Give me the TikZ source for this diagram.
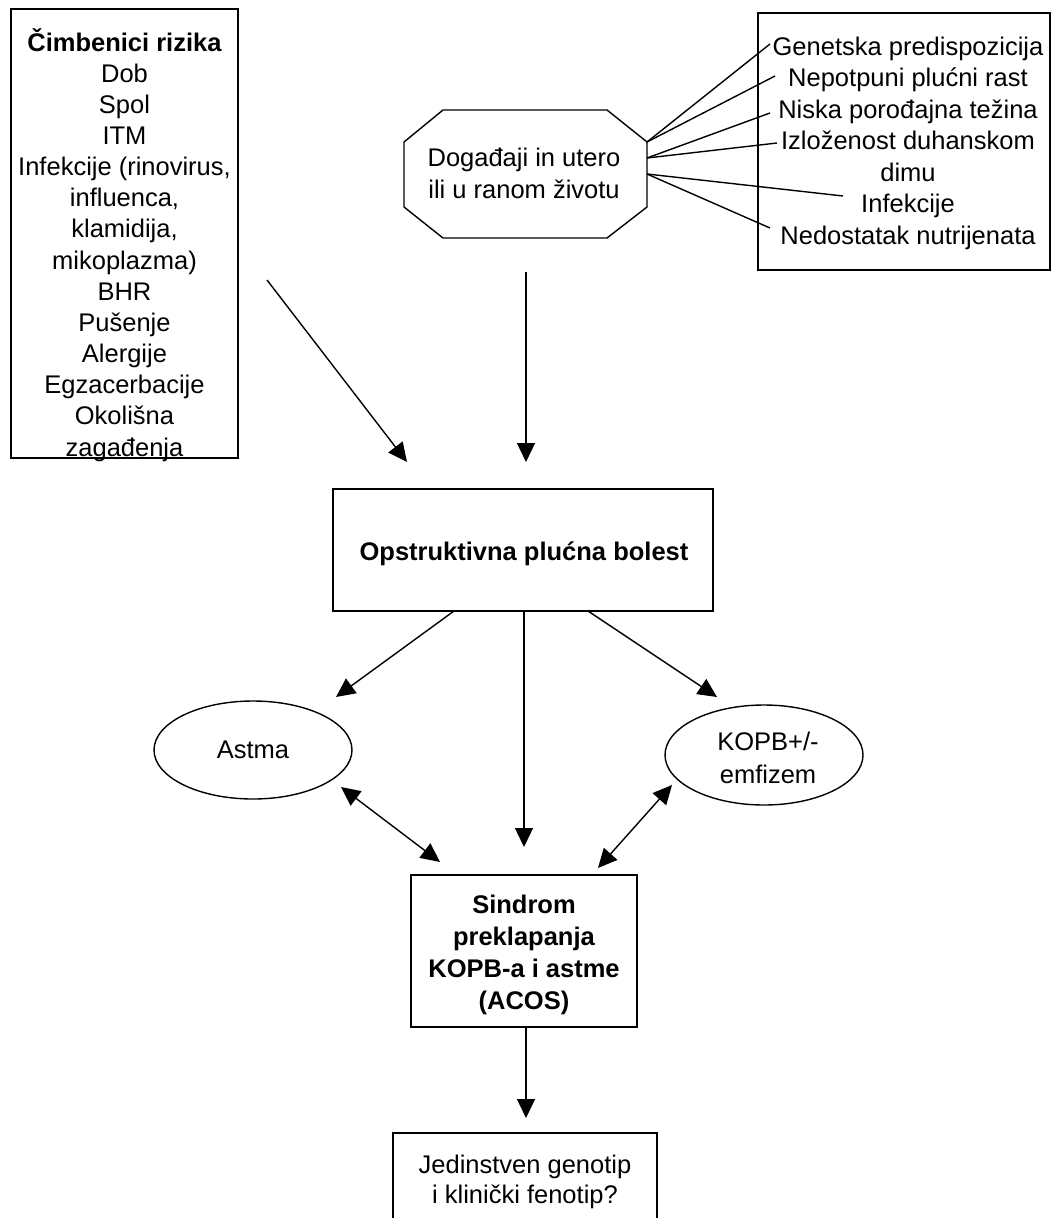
\documentclass[tikz,border=0pt]{standalone}
\usepackage{fontspec}
\setmainfont{Liberation Sans}
\usetikzlibrary{arrows.meta,shapes.geometric,calc}
\begin{document}
\begin{tikzpicture}[x=1pt,y=-1pt,
  every node/.style={inner sep=0pt, outer sep=0pt},
  box/.style={draw, line width=1.4pt, rectangle},
  oval/.style={draw, line width=1.4pt, ellipse},
  txt/.style={align=center, anchor=base, font=\fontsize{25.5}{31.2}\selectfont},
  arr/.style={line width=1.4pt, -{Triangle[length=19pt,width=18pt]}},
  darr/.style={line width=1.4pt, {Triangle[length=19pt,width=18pt]}-{Triangle[length=19pt,width=18pt]}},
  link/.style={line width=1.4pt}]
\clip (0,0) rectangle (1052,1218);
\fill[white] (0,0) rectangle (1052,1218);

% left box (text anchored at the baseline of its last line)
\node[box, minimum width=227pt, minimum height=449pt] (risk) at (124.5,233.5) {};
\node[txt, font=\fontsize{25.5}{31.15}\selectfont] (risktxt) at (124.5,456) {\textbf{Čimbenici rizika}\\Dob\\Spol\\ITM\\Infekcije (rinovirus,\\influenca,\\klamidija,\\mikoplazma)\\BHR\\Pušenje\\Alergije\\Egzacerbacije\\Okolišna\\zagađenja};

% octagon
\coordinate (oct) at (525.5,174);
\draw[link] (443,110) -- (607,110) -- (647,142) -- (647,207) -- (607,238) -- (443,238) -- (404,207) -- (404,142) -- cycle;
\node[txt, font=\fontsize{25.5}{32}\selectfont] (octtxt) at (524,198) {Događaji in utero\\ili u ranom životu};

% right box
\node[box, minimum width=292pt, minimum height=257pt] (early) at (904,141.5) {};
\node[txt, font=\fontsize{25.5}{31.5}\selectfont] (earlytxt) at (908,244) {Genetska predispozicija\\Nepotpuni plućni rast\\Niska porođajna težina\\Izloženost duhanskom\\dimu\\Infekcije\\Nedostatak nutrijenata};

\coordinate (o1) at (647,142);
\coordinate (o2) at (647,158);
\coordinate (o3) at (647,174);
\coordinate (e1) at (770,44);
\coordinate (e2) at (775,76);
\coordinate (e3) at (770,113);
\coordinate (e4) at (777,143);
\coordinate (e5) at (843,196);
\coordinate (e6) at (770,228);
\draw[link] (o1) -- (e1);
\draw[link] (o1) -- (e2);
\draw[link] (o2) -- (e3);
\draw[link] (o2) -- (e4);
\draw[link] (o3) -- (e5);
\draw[link] (o3) -- (e6);

% main box
\node[box, minimum width=380pt, minimum height=122pt] (main) at (523,550) {};
\node[txt] (maintxt) at (524,560) {\textbf{Opstruktivna plućna bolest}};

% ellipses
\node[oval, minimum width=198pt, minimum height=98pt, font=\fontsize{25.5}{31}\selectfont] (astma) at (253,750) {Astma};
\node[oval, minimum width=198pt, minimum height=100pt] (kopb) at (764,755) {};
\node[txt, font=\fontsize{25.5}{33}\selectfont] (kopbtxt) at (768,783) {KOPB+/-\\emfizem};

% sindrom box
\node[box, minimum width=226pt, minimum height=152pt] (acos) at (524,951) {};
\node[txt, font=\fontsize{25.5}{32}\selectfont] (acostxt) at (524,1009) {\textbf{Sindrom}\\\textbf{preklapanja}\\\textbf{KOPB-a i astme}\\\textbf{(ACOS)}};

% bottom box
\node[box, minimum width=264pt, minimum height=130pt] (geno) at (525,1198) {};
\node[txt, font=\fontsize{25.5}{30}\selectfont] (genotxt) at (525,1203) {Jedinstven genotip\\i klinički fenotip?};

% arrows
\coordinate (a1s) at (267,280);
\coordinate (a1e) at (407,462);
\coordinate (a2s) at (526,272);
\coordinate (a2e) at (526,462);
\draw[arr] (a1s) -- (a1e);
\draw[arr] (a2s) -- (a2e);

\coordinate (a3e) at (336,697);
\coordinate (a4e) at (524,847);
\coordinate (a5e) at (717,697);
\draw[arr] ($(main.south)+(-69,0)$) -- (a3e);
\draw[arr] ($(main.south)+(1,0)$) -- (a4e);
\draw[arr] ($(main.south)+(65,0)$) -- (a5e);

\coordinate (d1a) at (341,787);
\coordinate (d1b) at (440,862);
\coordinate (d2a) at (672,785);
\coordinate (d2b) at (598,868);
\draw[darr] (d1a) -- (d1b);
\draw[darr] (d2a) -- (d2b);

\coordinate (a8e) at (526,1118);
\draw[arr] ($(acos.south)+(2,0)$) -- (a8e);
\end{tikzpicture}
\end{document}
